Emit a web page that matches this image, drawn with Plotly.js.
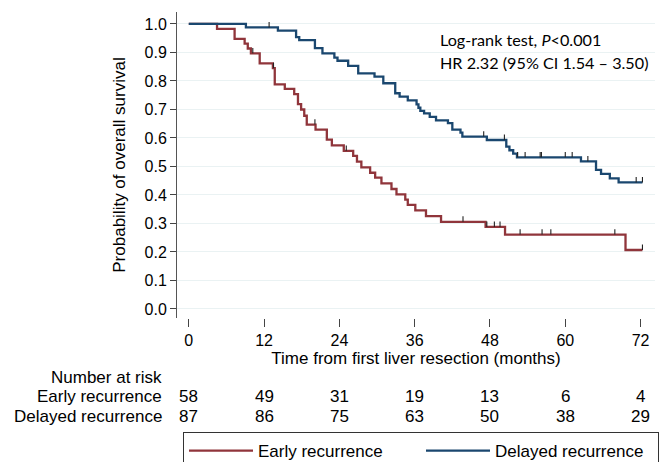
<!DOCTYPE html>
<html><head><meta charset="utf-8">
<script src="https://cdn.plot.ly/plotly-3.0.1.min.js"></script>
<style>html,body{margin:0;padding:0;background:#fff}#chart{width:671px;height:462px}</style>
</head><body><div id="chart"></div>
<script>
// ---- data ----
const groupNames = ['Early recurrence', 'Delayed recurrence'];

const earlyTimes = [0, 4.5, 7.3, 8.9, 9.4, 9.9, 11.3, 13.4, 13.7, 15.3, 16.8, 17.4, 17.9, 18.4, 18.8, 20.2, 22.0, 22.8, 24.7, 26.2, 26.8, 27.5, 28.9, 29.7, 30.7, 32.3, 33.1, 34.5, 34.9, 36.1, 37.8, 40.2, 47.3, 50.4, 69.6, 72.3];
const earlySurv  = [1.0, 0.983, 0.948, 0.931, 0.914, 0.897, 0.862, 0.845, 0.788, 0.772, 0.754, 0.719, 0.700, 0.678, 0.647, 0.629, 0.594, 0.574, 0.555, 0.537, 0.517, 0.497, 0.478, 0.461, 0.441, 0.421, 0.402, 0.384, 0.365, 0.346, 0.326, 0.306, 0.288, 0.261, 0.207, 0.207];
const earlyCensor = [10.2, 13.5, 20.1, 25.1, 43.7, 47.5, 48.7, 49.6, 52.8, 56.3, 57.7, 67.9, 72.3];

const delayedTimes = [0, 9.1, 14.2, 17.1, 17.6, 20.1, 21.3, 23.2, 23.7, 25.4, 27.0, 29.6, 31.0, 32.9, 33.6, 34.9, 36.3, 36.6, 36.9, 37.5, 38.4, 39.4, 41.3, 42.0, 43.3, 43.6, 47.5, 50.6, 51.1, 51.7, 52.3, 62.5, 64.9, 65.7, 67.1, 68.5, 72.3];
const delayedSurv  = [1.0, 0.988, 0.977, 0.954, 0.943, 0.915, 0.897, 0.882, 0.871, 0.853, 0.827, 0.815, 0.792, 0.757, 0.745, 0.732, 0.718, 0.706, 0.695, 0.686, 0.674, 0.662, 0.652, 0.629, 0.619, 0.605, 0.593, 0.570, 0.557, 0.545, 0.532, 0.518, 0.488, 0.474, 0.458, 0.444, 0.444];
const delayedCensor = [12.8, 47.0, 50.3, 52.4, 53.6, 56.0, 56.2, 60.0, 61.1, 63.6, 71.3, 72.3];

const riskTimes   = [0, 12, 24, 36, 48, 60, 72];
const earlyRisk   = [58, 49, 31, 19, 13, 6, 4];
const delayedRisk = [87, 86, 75, 63, 50, 38, 29];

const yTicks = [0, 0.1, 0.2, 0.3, 0.4, 0.5, 0.6, 0.7, 0.8, 0.9, 1.0];
const xTicks = [0, 12, 24, 36, 48, 60, 72];

// ---- styling ----
const RED = '#90353B', BLUE = '#1A476F';
const FONT = 'Liberation Sans, Arial, sans-serif';

function survAt(times, surv, t) {
  let s = surv[0];
  for (let i = 0; i < times.length; i++) if (times[i] <= t) s = surv[i];
  return s;
}

function curve(times, surv, name, color) {
  return {x: times, y: surv, name: name, type: 'scatter', mode: 'lines',
          line: {color: color, width: 2.3, shape: 'hv'}, hoverinfo: 'skip'};
}
function censor(ct, times, surv) {
  const ys = ct.map(t => survAt(times, surv, t));
  return {x: ct, y: ys, type: 'scatter', mode: 'markers', showlegend: false, hoverinfo: 'skip',
          marker: {size: 1, opacity: 0},
          error_y: {type: 'data', symmetric: false, array: ct.map(() => 0.019), arrayminus: ct.map(() => 0),
                    width: 0, thickness: 1.1, color: '#222'}};
}

const traces = [
  curve(earlyTimes, earlySurv, groupNames[0], RED),
  curve(delayedTimes, delayedSurv, groupNames[1], BLUE),
  censor(earlyCensor, earlyTimes, earlySurv),
  censor(delayedCensor, delayedTimes, delayedSurv)
];

const annotations = [];
const labelX = -0.027;
annotations.push({xref: 'paper', yref: 'paper', x: labelX, y: -0.196, xanchor: 'right', yanchor: 'middle',
  text: 'Number at risk', showarrow: false, font: {family: FONT, size: 17, color: '#000'}});
annotations.push({xref: 'paper', yref: 'paper', x: labelX, y: -0.258, xanchor: 'right', yanchor: 'middle',
  text: groupNames[0], showarrow: false, font: {family: FONT, size: 17, color: '#000'}});
annotations.push({xref: 'paper', yref: 'paper', x: labelX, y: -0.3235, xanchor: 'right', yanchor: 'middle',
  text: groupNames[1], showarrow: false, font: {family: FONT, size: 17, color: '#000'}});
riskTimes.forEach((t, i) => {
  annotations.push({xref: 'x', yref: 'paper', x: t, y: -0.258, xanchor: 'center', yanchor: 'middle',
    text: String(earlyRisk[i]), showarrow: false, font: {family: FONT, size: 17, color: '#000'}});
  annotations.push({xref: 'x', yref: 'paper', x: t, y: -0.3235, xanchor: 'center', yanchor: 'middle',
    text: String(delayedRisk[i]), showarrow: false, font: {family: FONT, size: 17, color: '#000'}});
});
annotations.push({xref: 'paper', yref: 'paper', x: 0.546, y: 0.9085, xanchor: 'left', yanchor: 'middle',
  text: 'Log-rank test, <i>P</i>&lt;0.001', showarrow: false, font: {family: 'Lato, sans-serif', size: 16.2, color: '#000'}});
annotations.push({xref: 'paper', yref: 'paper', x: 0.546, y: 0.8366, xanchor: 'left', yanchor: 'middle',
  text: 'HR 2.32 (95% CI 1.54 – 3.50)', showarrow: false, font: {family: 'Lato, sans-serif', size: 16.2, color: '#000'}});

const layout = {
  width: 671, height: 462,
  margin: {l: 177, r: 16, t: 12, b: 144},
  paper_bgcolor: '#fff', plot_bgcolor: '#fff',
  font: {family: FONT, color: '#000'},
  xaxis: {range: [-1.88, 74.3], tickvals: xTicks, ticktext: xTicks.map(String),
          ticks: 'outside', ticklen: 8, tickcolor: '#444', tickwidth: 1,
          showgrid: false, zeroline: false, showline: false,
          tickfont: {family: FONT, size: 16, color: '#000'},
          title: {text: 'Time from first liver resection (months)', font: {family: FONT, size: 17, color: '#000'}, standoff: 3}},
  yaxis: {range: [-0.0316, 1.042], tickvals: yTicks, ticktext: yTicks.map(v => v.toFixed(1)),
          ticks: 'outside', ticklen: 6, tickcolor: '#444', tickwidth: 1,
          showgrid: true, gridcolor: '#EAF2F3', gridwidth: 1,
          zeroline: false, showline: true, linecolor: '#555', linewidth: 1,
          tickfont: {family: FONT, size: 16, color: '#000'},
          title: {text: 'Probability of overall survival', font: {family: FONT, size: 17, color: '#000'}, standoff: 14}},
  showlegend: true,
  legend: {orientation: 'h', xref: 'container', yref: 'container', x: 183/671, y: 1 - 432/462,
           xanchor: 'left', yanchor: 'top', bgcolor: '#fff', bordercolor: '#333', borderwidth: 1,
           itemwidth: 64, entrywidth: 158, entrywidthmode: 'pixels',
           font: {family: FONT, size: 17, color: '#000'}, traceorder: 'normal'},
  annotations: annotations
};

Plotly.newPlot('chart', traces, layout, {staticPlot: true, displayModeBar: false});
</script>
</body></html>
